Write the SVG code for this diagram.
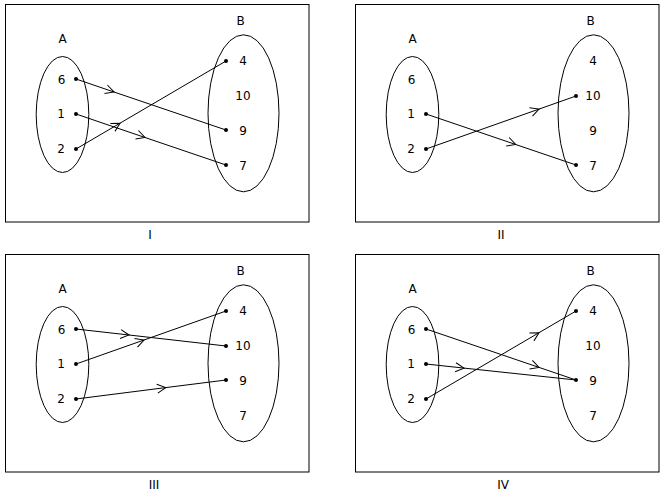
<svg xmlns="http://www.w3.org/2000/svg" width="664" height="499" viewBox="0 0 664 499">
<style>
.frame{fill:none;stroke:#000;stroke-width:1}
.set{fill:none;stroke:#000;stroke-width:1}
.t{font-family:"DejaVu Sans",sans-serif;font-size:12px;fill:#000;text-anchor:middle}
.e{fill:none;stroke:#000;stroke-width:1;marker-mid:url(#ah)}
.d{fill:#000}
</style>
<defs>
<marker id="ah" viewBox="-10 -6 12 12" refX="0" refY="0" markerWidth="12" markerHeight="12" markerUnits="userSpaceOnUse" orient="auto">
<path d="M-8.5,-4.5 L0,0 L-8.5,4.5" fill="none" stroke="#000" stroke-width="1"/>
</marker>
</defs>
<rect fill="#fff" x="0" y="0" width="664" height="499"/>

<g id="panel-I">
<rect class="frame" x="5.5" y="4.5" width="303.5" height="217.5"/>
<g id="I-setA"><ellipse class="set" cx="62.5" cy="114.5" rx="26.3" ry="58"/><text class="t" x="62.5" y="43.3">A</text>
<text class="t" x="61.5" y="83.5">6</text><text class="t" x="61" y="118.3">1</text><text class="t" x="61" y="153.3">2</text></g>
<g id="I-setB"><ellipse class="set" cx="243.5" cy="113.3" rx="35.5" ry="78.5"/><text class="t" x="240.7" y="25">B</text>
<text class="t" x="243" y="65.3">4</text><text class="t" x="243" y="100">10</text><text class="t" x="243" y="135">9</text><text class="t" x="243" y="170">7</text></g>
<g id="I-edges">
<polyline class="e" points="76,79 114,92 226,130"/>
<polyline class="e" points="76,114 145,137.5 226,165"/>
<polyline class="e" points="76,149 120,123.2 226,61"/>
<circle class="d" cx="76" cy="79" r="2"/><circle class="d" cx="76" cy="114" r="2"/><circle class="d" cx="76" cy="149" r="2"/>
<circle class="d" cx="226" cy="61" r="2"/><circle class="d" cx="226" cy="130" r="2"/><circle class="d" cx="226" cy="165" r="2"/>
</g>
<text class="t" x="150" y="239.3">I</text>
</g>

<g id="panel-II" transform="translate(350,0)">
<rect class="frame" x="5.5" y="4.5" width="303.5" height="217.5"/>
<g id="II-setA"><ellipse class="set" cx="62.5" cy="114.5" rx="26.3" ry="58"/><text class="t" x="62.5" y="43.3">A</text>
<text class="t" x="61.5" y="83.5">6</text><text class="t" x="61" y="118.3">1</text><text class="t" x="61" y="153.3">2</text></g>
<g id="II-setB"><ellipse class="set" cx="243.5" cy="113.3" rx="35.5" ry="78.5"/><text class="t" x="240.7" y="25">B</text>
<text class="t" x="243" y="65.3">4</text><text class="t" x="243" y="100">10</text><text class="t" x="243" y="135">9</text><text class="t" x="243" y="170">7</text></g>
<g id="II-edges">
<polyline class="e" points="76,149 189,109.1 226,96"/>
<polyline class="e" points="76,114 165.7,144.5 226,165"/>
<circle class="d" cx="76" cy="114" r="2"/><circle class="d" cx="76" cy="149" r="2"/>
<circle class="d" cx="226" cy="96" r="2"/><circle class="d" cx="226" cy="165" r="2"/>
</g>
<text class="t" x="151" y="239.3">II</text>
</g>

<g id="panel-III" transform="translate(0,250)">
<rect class="frame" x="5.5" y="4.5" width="303.5" height="217.5"/>
<g id="III-setA"><ellipse class="set" cx="62.5" cy="114.5" rx="26.3" ry="58"/><text class="t" x="62.5" y="43.3">A</text>
<text class="t" x="61.5" y="83.5">6</text><text class="t" x="61" y="118.3">1</text><text class="t" x="61" y="153.3">2</text></g>
<g id="III-setB"><ellipse class="set" cx="243.5" cy="113.3" rx="35.5" ry="78.5"/><text class="t" x="240.7" y="25">B</text>
<text class="t" x="243" y="65.3">4</text><text class="t" x="243" y="100">10</text><text class="t" x="243" y="135">9</text><text class="t" x="243" y="170">7</text></g>
<g id="III-edges">
<polyline class="e" points="76,79 129,85 226,96"/>
<polyline class="e" points="76,114 144,90 226,61"/>
<polyline class="e" points="76,149 165.7,137.6 226,130"/>
<circle class="d" cx="76" cy="79" r="2"/><circle class="d" cx="76" cy="114" r="2"/><circle class="d" cx="76" cy="149" r="2"/>
<circle class="d" cx="226" cy="61" r="2"/><circle class="d" cx="226" cy="96" r="2"/><circle class="d" cx="226" cy="130" r="2"/>
</g>
<text class="t" x="154" y="239.3">III</text>
</g>

<g id="panel-IV" transform="translate(350,250)">
<rect class="frame" x="5.5" y="4.5" width="303.5" height="217.5"/>
<g id="IV-setA"><ellipse class="set" cx="62.5" cy="114.5" rx="26.3" ry="58"/><text class="t" x="62.5" y="43.3">A</text>
<text class="t" x="61.5" y="83.5">6</text><text class="t" x="61" y="118.3">1</text><text class="t" x="61" y="153.3">2</text></g>
<g id="IV-setB"><ellipse class="set" cx="243.5" cy="113.3" rx="35.5" ry="78.5"/><text class="t" x="240.7" y="25">B</text>
<text class="t" x="243" y="65.3">4</text><text class="t" x="243" y="100">10</text><text class="t" x="243" y="135">9</text><text class="t" x="243" y="170">7</text></g>
<g id="IV-edges">
<polyline class="e" points="76,149 189,82.7 226,61"/>
<polyline class="e" points="76,79 189,117.4 226,130"/>
<polyline class="e" points="76,114 114,118.1 226,130"/>
<circle class="d" cx="76" cy="79" r="2"/><circle class="d" cx="76" cy="114" r="2"/><circle class="d" cx="76" cy="149" r="2"/>
<circle class="d" cx="226" cy="61" r="2"/><circle class="d" cx="226" cy="130" r="2"/>
</g>
<text class="t" x="153" y="239.3">IV</text>
</g>
</svg>
